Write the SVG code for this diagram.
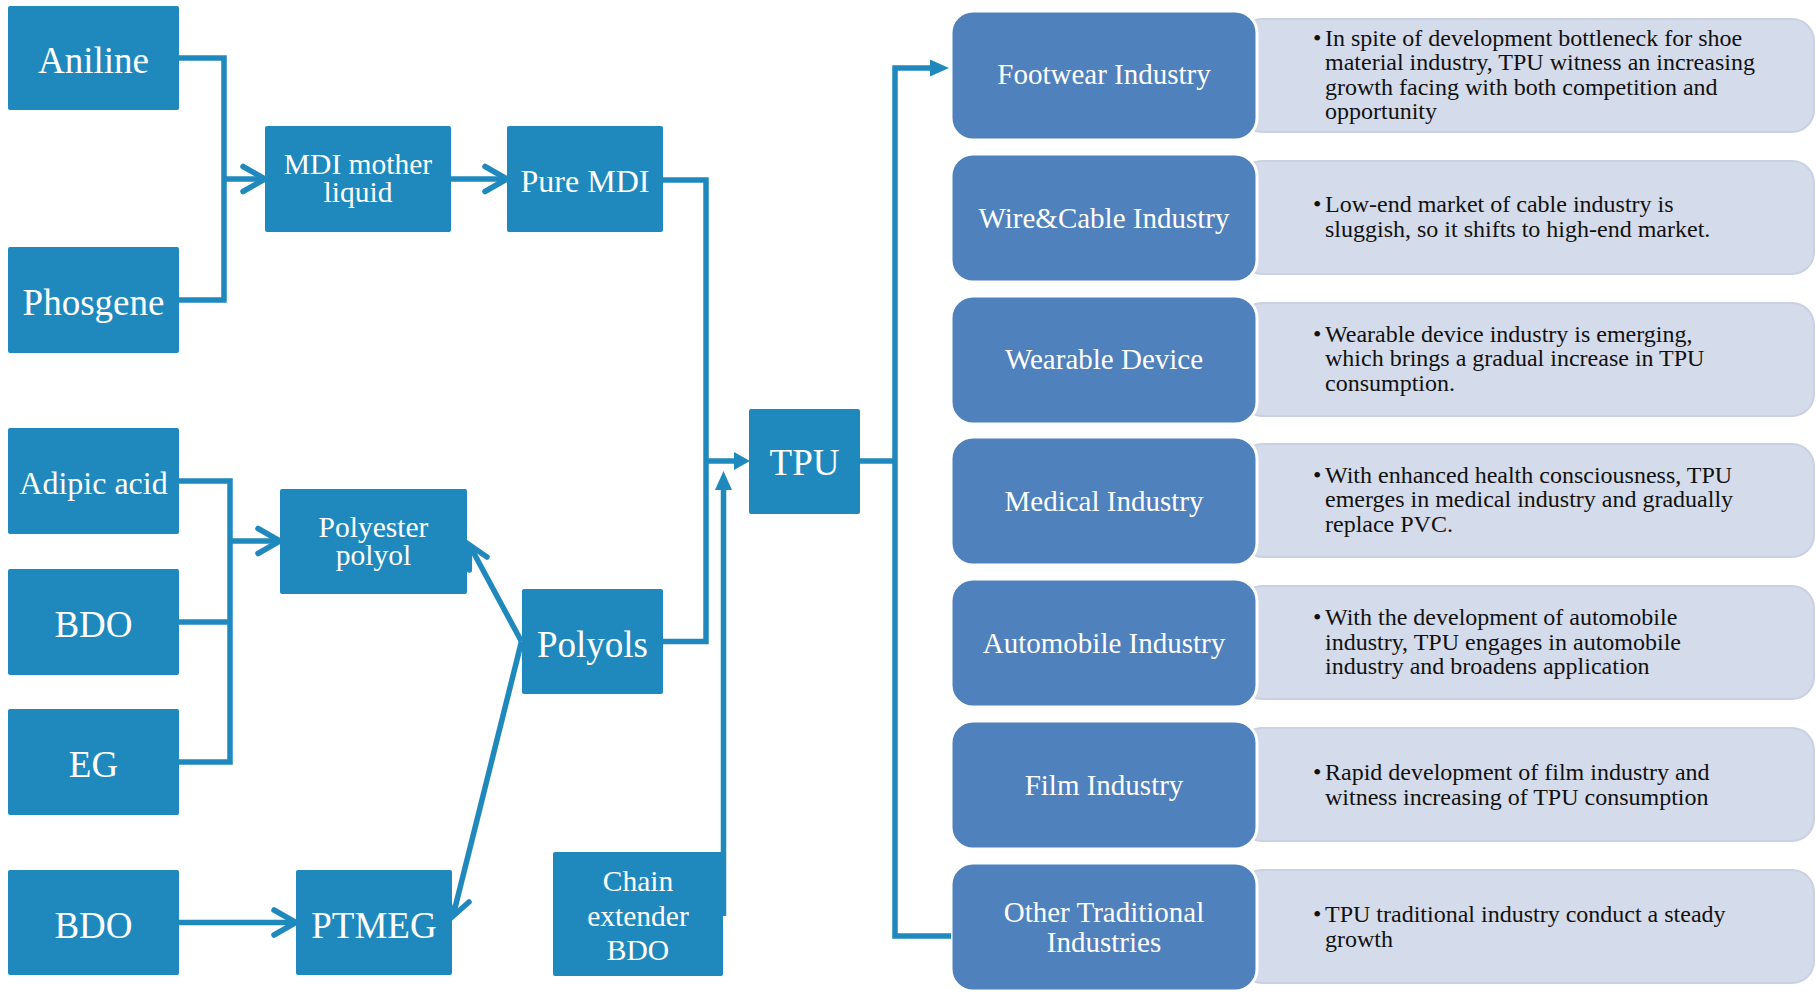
<svg xmlns="http://www.w3.org/2000/svg" width="1816" height="994" viewBox="0 0 1816 994">
<style>
.sq{fill:#1F89BD;}
.lb{font-family:"Liberation Serif","Times New Roman",serif;fill:#fff;text-anchor:middle;}
.big{font-size:37px;}
.mid{font-size:29.5px;}
.ind{fill:#4F81BD;stroke:#fff;stroke-width:3;}
.desc{fill:#D4DBEA;stroke:#C9D1E2;stroke-width:2;}
.dt{font-family:"Liberation Serif","Times New Roman",serif;font-size:24px;fill:#111;}
.ln{fill:none;stroke:#1F89BD;stroke-width:5.5;stroke-linejoin:miter;}
.chev{fill:none;stroke:#1F89BD;stroke-width:5.5;stroke-linecap:round;stroke-linejoin:miter;}
.tri{fill:#1F89BD;}
</style>
<rect width="1816" height="994" fill="#fff"/>

<!-- description panels -->
<g id="descriptions">
<rect class="desc" x="1240" y="19" width="574" height="113" rx="22"/>
<rect class="desc" x="1240" y="161" width="574" height="113" rx="22"/>
<rect class="desc" x="1240" y="303" width="574" height="113" rx="22"/>
<rect class="desc" x="1240" y="444" width="574" height="113" rx="22"/>
<rect class="desc" x="1240" y="586" width="574" height="113" rx="22"/>
<rect class="desc" x="1240" y="728" width="574" height="113" rx="22"/>
<rect class="desc" x="1240" y="870" width="574" height="113" rx="22"/>
<text class="dt"><tspan x="1313" y="45.5">•</tspan><tspan x="1325" y="45.5">In spite of development bottleneck for shoe</tspan><tspan x="1325" y="70">material industry, TPU witness an increasing</tspan><tspan x="1325" y="94.5">growth facing with both competition and</tspan><tspan x="1325" y="119">opportunity</tspan></text>
<text class="dt"><tspan x="1313" y="212">•</tspan><tspan x="1325" y="212">Low-end market of cable industry is</tspan><tspan x="1325" y="236.5">sluggish, so it shifts to high-end market.</tspan></text>
<text class="dt"><tspan x="1313" y="341.5">•</tspan><tspan x="1325" y="341.5">Wearable device industry is emerging,</tspan><tspan x="1325" y="366">which brings a gradual increase in TPU</tspan><tspan x="1325" y="390.5">consumption.</tspan></text>
<text class="dt"><tspan x="1313" y="482.5">•</tspan><tspan x="1325" y="482.5">With enhanced health consciousness, TPU</tspan><tspan x="1325" y="507">emerges in medical industry and gradually</tspan><tspan x="1325" y="531.5">replace PVC.</tspan></text>
<text class="dt"><tspan x="1313" y="625">•</tspan><tspan x="1325" y="625">With the development of automobile</tspan><tspan x="1325" y="649.5">industry, TPU engages in automobile</tspan><tspan x="1325" y="674">industry and broadens application</tspan></text>
<text class="dt"><tspan x="1313" y="780">•</tspan><tspan x="1325" y="780">Rapid development of film industry and</tspan><tspan x="1325" y="804.5">witness increasing of TPU consumption</tspan></text>
<text class="dt"><tspan x="1313" y="922">•</tspan><tspan x="1325" y="922">TPU traditional industry conduct a steady</tspan><tspan x="1325" y="946.5">growth</tspan></text>
</g>

<!-- left nodes -->
<g id="aniline"><rect class="sq" x="8" y="6" width="171" height="104" rx="2"/><text class="lb big" x="93.5" y="73">Aniline</text></g>
<g id="phosgene"><rect class="sq" x="8" y="247" width="171" height="106" rx="2"/><text class="lb big" x="93.5" y="315">Phosgene</text></g>
<g id="mdi-mother"><rect class="sq" x="265" y="126" width="186" height="106" rx="2"/><text class="lb mid" x="358" y="174">MDI mother<tspan x="358" dy="28">liquid</tspan></text></g>
<g id="pure-mdi"><rect class="sq" x="507" y="126" width="156" height="106" rx="2"/><text class="lb" style="font-size:32px" x="585" y="192">Pure MDI</text></g>
<g id="adipic"><rect class="sq" x="8" y="428" width="171" height="106" rx="2"/><text class="lb" style="font-size:32px" x="93.5" y="494">Adipic acid</text></g>
<g id="bdo1"><rect class="sq" x="8" y="569" width="171" height="106" rx="2"/><text class="lb big" x="93.5" y="637">BDO</text></g>
<g id="eg"><rect class="sq" x="8" y="709" width="171" height="106" rx="2"/><text class="lb big" x="93.5" y="777">EG</text></g>
<g id="bdo2"><rect class="sq" x="8" y="870" width="171" height="105" rx="2"/><text class="lb big" x="93.5" y="938">BDO</text></g>
<g id="polyester"><rect class="sq" x="280" y="489" width="187" height="105" rx="2"/><text class="lb mid" x="373.5" y="536.5">Polyester<tspan x="373.5" dy="28">polyol</tspan></text></g>
<g id="polyols"><rect class="sq" x="522" y="589" width="141" height="105" rx="2"/><text class="lb big" x="592.5" y="657">Polyols</text></g>
<g id="ptmeg"><rect class="sq" x="296" y="870" width="156" height="105" rx="2"/><text class="lb big" x="374" y="938">PTMEG</text></g>
<g id="chain-extender"><rect class="sq" x="553" y="852" width="170" height="124" rx="2"/><text class="lb mid" x="638" y="891">Chain<tspan x="638" y="926">extender</tspan><tspan x="638" y="960">BDO</tspan></text></g>
<g id="tpu"><rect class="sq" x="749" y="409" width="111" height="105" rx="2"/><text class="lb big" x="804.5" y="475">TPU</text></g>

<!-- industry nodes -->
<g id="footwear"><rect class="ind" x="951" y="11" width="306" height="129" rx="22"/><text class="lb" style="font-size:29px" x="1104" y="84">Footwear Industry</text></g>
<g id="wire-cable"><rect class="ind" x="951" y="154" width="306" height="128" rx="22"/><text class="lb" style="font-size:29px" x="1104" y="227.5">Wire&amp;Cable Industry</text></g>
<g id="wearable"><rect class="ind" x="951" y="296" width="306" height="128" rx="22"/><text class="lb" style="font-size:29px" x="1104" y="369">Wearable Device</text></g>
<g id="medical"><rect class="ind" x="951" y="437" width="306" height="128" rx="22"/><text class="lb" style="font-size:29px" x="1104" y="510.5">Medical Industry</text></g>
<g id="automobile"><rect class="ind" x="951" y="579" width="306" height="128" rx="22"/><text class="lb" style="font-size:29px" x="1104" y="652.5">Automobile Industry</text></g>
<g id="film"><rect class="ind" x="951" y="721" width="306" height="128" rx="22"/><text class="lb" style="font-size:29px" x="1104" y="794.5">Film Industry</text></g>
<g id="other"><rect class="ind" x="951" y="863" width="306" height="128" rx="22"/><text class="lb" style="font-size:29px" x="1104" y="922">Other Traditional<tspan x="1104" dy="30">Industries</tspan></text></g>

<!-- connectors -->
<g id="connectors">
<!-- Aniline + Phosgene -> MDI mother liquid -->
<path class="ln" d="M179 58 H224 V300 H179"/>
<path class="ln" d="M224 179 H263"/>
<path class="chev" d="M243 166.5 L265 179 L243 191.5"/>
<!-- MDI mother liquid -> Pure MDI -->
<path class="ln" d="M451 179 H505"/>
<path class="chev" d="M485 166.5 L507 179 L485 191.5"/>
<!-- Pure MDI + Polyols bus -> TPU -->
<path class="ln" d="M663 180 H706 V641.5 H663"/>
<path class="ln" d="M706 461 H736"/>
<polygon class="tri" points="734,452 750,461 734,470"/>
<!-- Chain extender -> TPU -->
<path class="ln" d="M723.5 916 V488"/>
<polygon class="tri" points="715,490 723.5,471 732,490"/>
<!-- Adipic, BDO, EG -> Polyester polyol -->
<path class="ln" d="M179 481 H230 V762 H179"/>
<path class="ln" d="M179 622 H230"/>
<path class="ln" d="M230 541 H278"/>
<path class="chev" d="M258 528.5 L280 541 L258 553.5"/>
<!-- BDO -> PTMEG -->
<path class="ln" d="M179 922.5 H294"/>
<path class="chev" d="M274 910 L296 922.5 L274 935"/>
<!-- Polyols -> Polyester polyol / PTMEG -->
<path class="ln" d="M521.5 641.5 L470 546"/>
<path class="chev" d="M469.3 570 L469.5 545 L487 557"/>
<path class="ln" d="M521.5 641.5 L453 916"/>
<path class="chev" d="M469 902 L453 916 L446.4 894"/>
<!-- TPU -> industries -->
<path class="ln" d="M860 461 H895"/>
<path class="ln" d="M951 936 H895 V68 H932"/>
<polygon class="tri" points="930,59.5 949,68 930,76.5"/>
</g>
</svg>
